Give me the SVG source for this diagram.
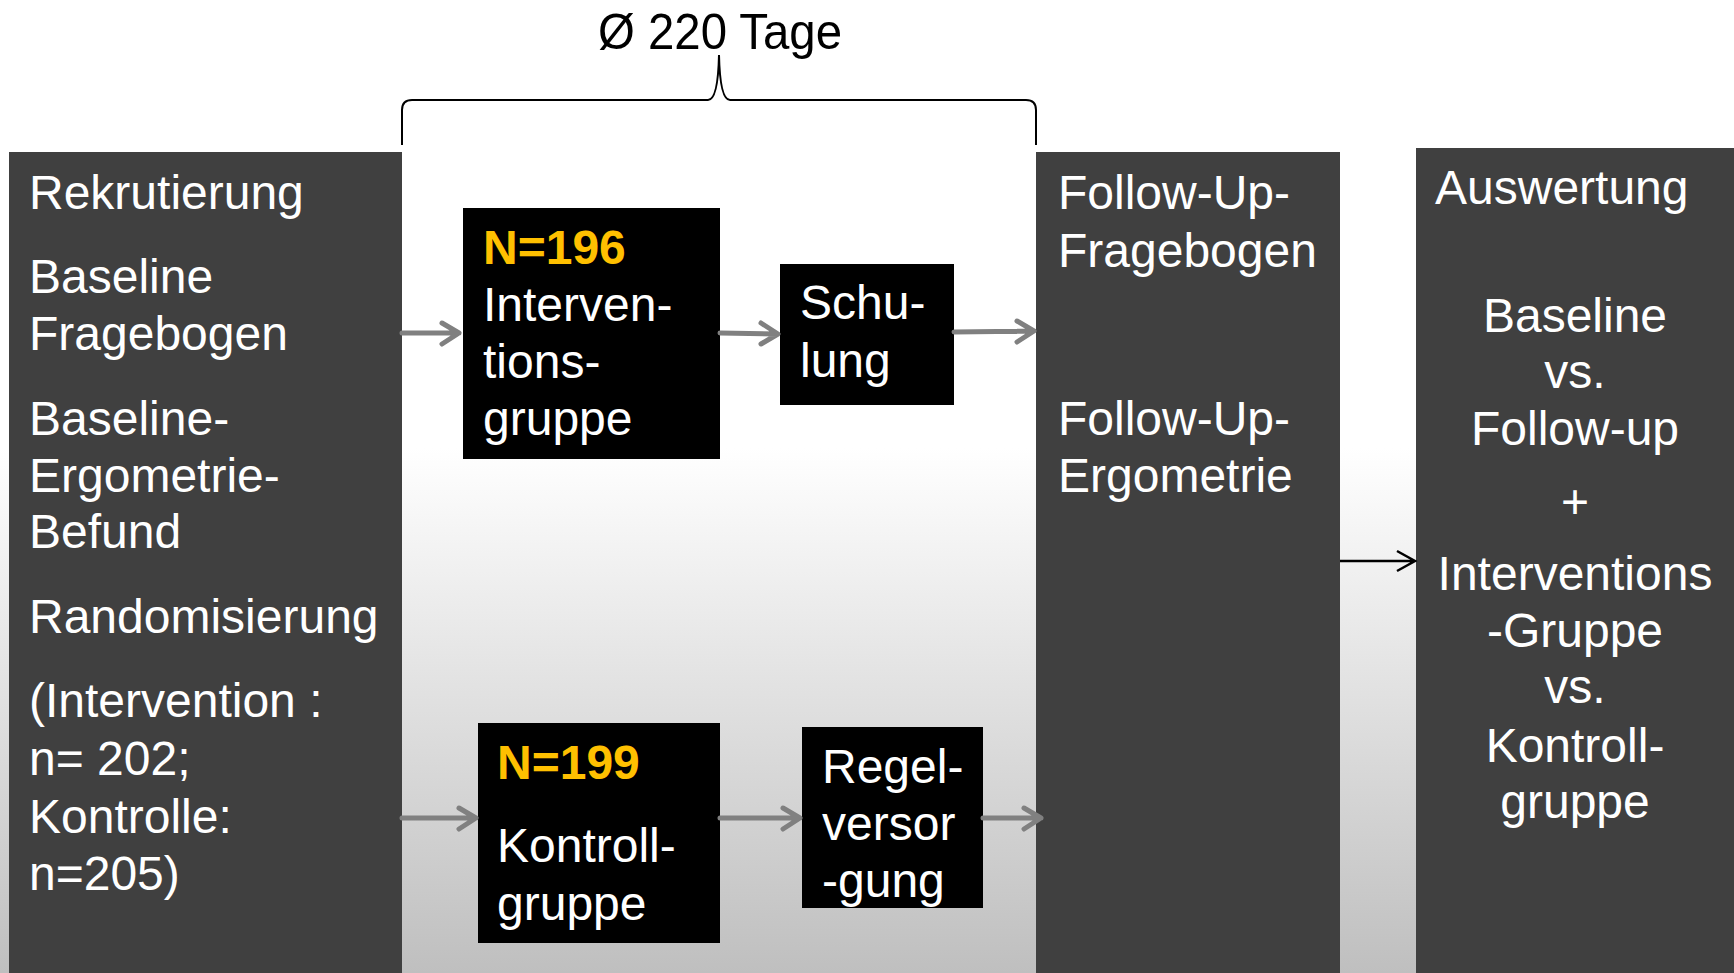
<svg xmlns="http://www.w3.org/2000/svg" width="1734" height="973" viewBox="0 0 1734 973">
<defs>
  <linearGradient id="bg" x1="0" y1="0" x2="0" y2="973" gradientUnits="userSpaceOnUse">
    <stop offset="0" stop-color="#ffffff"/>
    <stop offset="0.46" stop-color="#ffffff"/>
    <stop offset="1" stop-color="#bfbfbf"/>
  </linearGradient>
  <style>
    .panel { fill: #404040; }
    .box { fill: #000000; }
    .t { font-family: "Liberation Sans", Arial, sans-serif; font-size: 48px; fill: #ffffff; }
    .n { font-family: "Liberation Sans", Arial, sans-serif; font-size: 48px; font-weight: bold; fill: #FFC000; }
    .c { text-anchor: middle; }
    .ga { fill: none; stroke: #808080; stroke-width: 5; stroke-linecap: round; stroke-linejoin: round; }
    .ba { fill: none; stroke: #000000; stroke-width: 2.5; }
  </style>
</defs>
<rect x="0" y="0" width="1734" height="973" fill="url(#bg)"/>

<g id="brace">
  <path d="M 402,145 L 402,110 Q 402,100 412,100 L 708,100 Q 718,100 719,55 Q 720,100 730,100 L 1026,100 Q 1036,100 1036,110 L 1036,145" fill="none" stroke="#000" stroke-width="2"/>
  <text x="598" y="49" font-family="Liberation Sans, Arial, sans-serif" font-size="50" fill="#000" textLength="244" lengthAdjust="spacingAndGlyphs">Ø 220 Tage</text>
</g>

<g id="rekrutierung">
  <rect class="panel" x="9" y="152" width="393" height="821"/>
  <text class="t" x="29" y="209">Rekrutierung</text>
  <text class="t" x="29" y="293">Baseline</text>
  <text class="t" x="29" y="350">Fragebogen</text>
  <text class="t" x="29" y="435">Baseline-</text>
  <text class="t" x="29" y="492">Ergometrie-</text>
  <text class="t" x="29" y="548">Befund</text>
  <text class="t" x="29" y="633">Randomisierung</text>
  <text class="t" x="29" y="717">(Intervention :</text>
  <text class="t" x="29" y="775">n= 202;</text>
  <text class="t" x="29" y="833">Kontrolle:</text>
  <text class="t" x="29" y="890">n=205)</text>
</g>

<g id="followup">
  <rect class="panel" x="1036" y="152" width="304" height="821"/>
  <text class="t" x="1058" y="209">Follow-Up-</text>
  <text class="t" x="1058" y="267">Fragebogen</text>
  <text class="t" x="1058" y="435">Follow-Up-</text>
  <text class="t" x="1058" y="492">Ergometrie</text>
</g>

<g id="auswertung">
  <rect class="panel" x="1416" y="148" width="318" height="825"/>
  <text class="t" x="1435" y="204">Auswertung</text>
  <text class="t c" x="1575" y="332">Baseline</text>
  <text class="t c" x="1575" y="388">vs.</text>
  <text class="t c" x="1575" y="445">Follow-up</text>
  <text class="t c" x="1575" y="518">+</text>
  <text class="t c" x="1575" y="590">Interventions</text>
  <text class="t c" x="1575" y="647">-Gruppe</text>
  <text class="t c" x="1575" y="703">vs.</text>
  <text class="t c" x="1575" y="762">Kontroll-</text>
  <text class="t c" x="1575" y="818">gruppe</text>
</g>

<g id="interventionsgruppe">
  <rect class="box" x="463" y="208" width="257" height="251"/>
  <text class="n" x="483" y="264">N=196</text>
  <text class="t" x="483" y="321">Interven-</text>
  <text class="t" x="483" y="378">tions-</text>
  <text class="t" x="483" y="435">gruppe</text>
</g>

<g id="schulung">
  <rect class="box" x="780" y="264" width="174" height="141"/>
  <text class="t" x="800" y="319">Schu-</text>
  <text class="t" x="800" y="377">lung</text>
</g>

<g id="kontrollgruppe">
  <rect class="box" x="478" y="723" width="242" height="220"/>
  <text class="n" x="497" y="779">N=199</text>
  <text class="t" x="497" y="862">Kontroll-</text>
  <text class="t" x="497" y="920">gruppe</text>
</g>

<g id="regelversorgung">
  <rect class="box" x="802" y="727" width="181" height="181"/>
  <text class="t" x="822" y="783">Regel-</text>
  <text class="t" x="822" y="840">versor</text>
  <text class="t" x="822" y="897">-gung</text>
</g>

<g id="connectors">
  <path class="ga" d="M 402,333 L 459,333 M 442,323 L 459,333 L 442,344"/>
  <path class="ga" d="M 720,333 L 778,334 M 761,323 L 778,334 L 761,344"/>
  <path class="ga" d="M 954,332 L 1034,331 M 1017,321 L 1034,331 L 1017,342"/>
  <path class="ga" d="M 402,818 L 476,818 M 459,808 L 476,818 L 459,829"/>
  <path class="ga" d="M 720,818 L 800,818 M 783,808 L 800,818 L 783,829"/>
  <path class="ga" d="M 983,818 L 1041,818 M 1024,808 L 1041,818 L 1024,829"/>
  <path class="ba" d="M 1340,561 L 1415,561 M 1397,551 L 1415,561 L 1397,571"/>
</g>
</svg>
